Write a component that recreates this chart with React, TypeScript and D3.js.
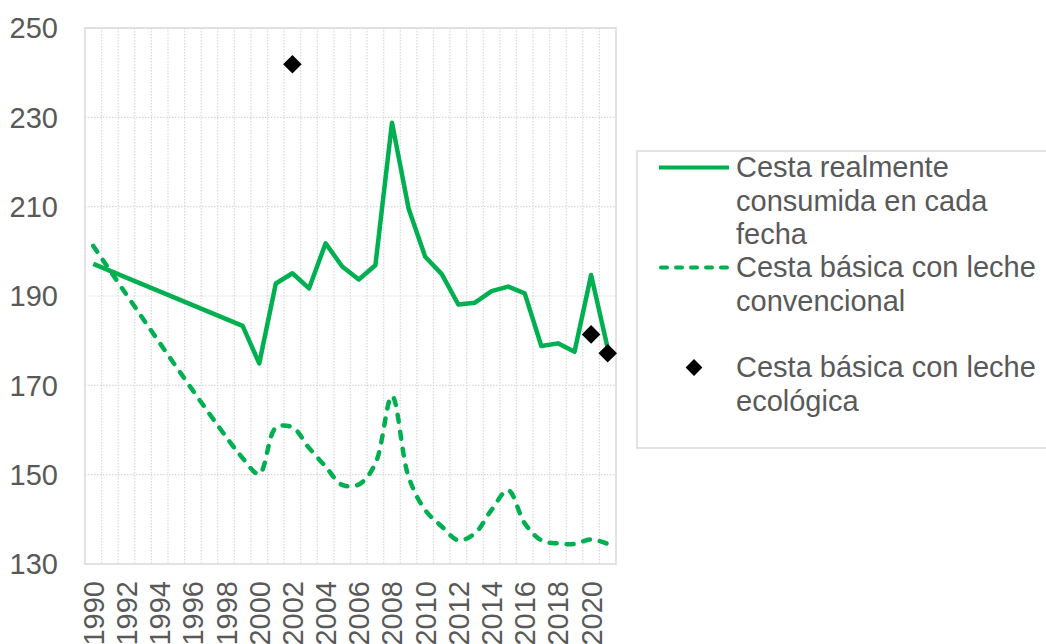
import React, { useEffect, useRef } from 'react';
import * as d3 from 'd3';

// Categories (years) and series values
const years = [
  1990, 1991, 1992, 1993, 1994, 1995, 1996, 1997, 1998, 1999,
  2000, 2001, 2002, 2003, 2004, 2005, 2006, 2007, 2008, 2009,
  2010, 2011, 2012, 2013, 2014, 2015, 2016, 2017, 2018, 2019,
  2020, 2021,
];

const realConsumed: (number | null)[] = [
  197.2, null, null, null, null, null, null, null, null, 183.3,
  174.9, 192.8, 195.1, 191.7, 201.8, 196.6, 193.7, 196.9, 228.8, 209.6,
  198.8, 194.9, 188.1, 188.5, 191.1, 192.1, 190.6, 178.8, 179.4, 177.5,
  194.7, 178.3,
];

const basicConventional: (number | null)[] = [
  201.2, null, null, null, null, null, null, null, null, 153.7,
  150.2, 160.5, 160.6, 156.0, 151.8, 147.7, 147.8, 152.5, 167.6, 149.5,
  142.1, 138.4, 135.3, 136.9, 142.1, 146.5, 139.1, 135.3, 134.6, 134.5,
  135.5, 134.5,
];

const basicEcological: (number | null)[] = [
  null, null, null, null, null, null, null, null, null, null,
  null, null, 241.9, null, null, null, null, null, null, null,
  null, null, null, null, null, null, null, null, null, null,
  181.4, 177.2,
];

const yTicks = [130, 150, 170, 190, 210, 230, 250];

const legendItems = [
  { kind: 'solid', lines: ['Cesta realmente', 'consumida en cada', 'fecha'] },
  { kind: 'dashed', lines: ['Cesta básica con leche', 'convencional'] },
  { kind: 'diamond', lines: ['Cesta básica con leche', 'ecológica'] },
];

const GREEN = '#00B050';
const TEXT = '#595959';
const GRID = '#D9D9D9';
const FONT = '"Liberation Sans", Arial, sans-serif';
const FONT_SIZE = '29px';
const DASH = '7,10';

const App: React.FC = () => {
  const svgRef = useRef<SVGSVGElement>(null);
  const width = 1046;
  const height = 644;

  useEffect(() => {
    if (!svgRef.current) return;
    d3.select(svgRef.current).selectAll('*').remove();

    const plot = { left: 85, right: 616, top: 28, bottom: 564 };

    const svg = d3.select(svgRef.current)
      .attr('width', width)
      .attr('height', height)
      .style('font-family', FONT);

    const x = d3.scaleBand<number>()
      .domain(years)
      .range([plot.left, plot.right])
      .padding(0);

    const y = d3.scaleLinear()
      .domain([130, 250])
      .range([plot.bottom, plot.top]);

    const cx = (yr: number) => (x(yr) as number) + x.bandwidth() / 2;

    // Horizontal gridlines (dotted)
    svg.append('g')
      .selectAll('line')
      .data(yTicks.slice(1))
      .enter()
      .append('line')
      .attr('x1', plot.left)
      .attr('x2', plot.right)
      .attr('y1', (d: number) => y(d))
      .attr('y2', (d: number) => y(d))
      .attr('stroke', GRID)
      .attr('stroke-width', 1.2)
      .attr('stroke-dasharray', '1.5,1.5');

    // Vertical gridlines at category boundaries (dotted)
    svg.append('g')
      .selectAll('line')
      .data(years.slice(1))
      .enter()
      .append('line')
      .attr('x1', (d: number) => x(d) as number)
      .attr('x2', (d: number) => x(d) as number)
      .attr('y1', plot.top)
      .attr('y2', plot.bottom)
      .attr('stroke', GRID)
      .attr('stroke-width', 1.2)
      .attr('stroke-dasharray', '1.5,1.5');

    // Plot area border
    svg.append('rect')
      .attr('x', plot.left)
      .attr('y', plot.top)
      .attr('width', plot.right - plot.left)
      .attr('height', plot.bottom - plot.top)
      .attr('fill', 'none')
      .attr('stroke', GRID)
      .attr('stroke-width', 1.5);

    // Y axis labels
    svg.append('g')
      .selectAll('text')
      .data(yTicks)
      .enter()
      .append('text')
      .attr('x', 58)
      .attr('y', (d: number) => y(d))
      .attr('dy', '0.36em')
      .attr('text-anchor', 'end')
      .style('font-size', FONT_SIZE)
      .style('fill', TEXT)
      .text((d: number) => d);

    // X axis labels, every second year, rotated
    svg.append('g')
      .selectAll('text')
      .data(years.filter((_, i) => i % 2 === 0))
      .enter()
      .append('text')
      .attr('transform', (d: number) => `translate(${cx(d)},581) rotate(-90)`)
      .attr('dy', '0.36em')
      .attr('text-anchor', 'end')
      .style('font-size', FONT_SIZE)
      .style('fill', TEXT)
      .text((d: number) => d);

    type Pt = { year: number; value: number };
    const toPoints = (vals: (number | null)[]): Pt[] =>
      years
        .map((yr, i) => ({ year: yr, value: vals[i] as number }))
        .filter((_, i) => vals[i] !== null);

    // Dashed smoothed line
    const smooth = d3.line<Pt>()
      .x((p: Pt) => cx(p.year))
      .y((p: Pt) => y(p.value))
      .curve(d3.curveCatmullRom.alpha(0.5));

    svg.append('path')
      .datum(toPoints(basicConventional))
      .attr('fill', 'none')
      .attr('stroke', GREEN)
      .attr('stroke-width', 4.5)
      .attr('stroke-linecap', 'round')
      .attr('stroke-dasharray', DASH)
      .attr('d', smooth);

    // Solid line
    const straight = d3.line<Pt>()
      .x((p: Pt) => cx(p.year))
      .y((p: Pt) => y(p.value));

    svg.append('path')
      .datum(toPoints(realConsumed))
      .attr('fill', 'none')
      .attr('stroke', GREEN)
      .attr('stroke-width', 4.5)
      .attr('stroke-linejoin', 'round')
      .attr('d', straight);

    // Diamonds
    const diamond = d3.symbol().type(d3.symbolDiamond2).size(220);
    svg.append('g')
      .selectAll('path')
      .data(toPoints(basicEcological))
      .enter()
      .append('path')
      .attr('transform', (p: Pt) => `translate(${cx(p.year)},${y(p.value)})`)
      .attr('d', diamond)
      .attr('fill', '#000');

    // Legend
    const legend = svg.append('g');
    legend.append('rect')
      .attr('x', 637)
      .attr('y', 151)
      .attr('width', 420)
      .attr('height', 297)
      .attr('fill', '#fff')
      .attr('stroke', GRID)
      .attr('stroke-width', 1.5);

    const lineH = 33.5;
    const entryTop = [177, 277, 377];
    legendItems.forEach((item, i) => {
      const base = entryTop[i];
      const my = base - 9.5;
      if (item.kind === 'diamond') {
        legend.append('path')
          .attr('transform', `translate(694,${my})`)
          .attr('d', d3.symbol().type(d3.symbolDiamond2).size(180))
          .attr('fill', '#000');
      } else {
        legend.append('line')
          .attr('x1', item.kind === 'dashed' ? 661 : 659)
          .attr('x2', 729)
          .attr('y1', my)
          .attr('y2', my)
          .attr('stroke', GREEN)
          .attr('stroke-width', 4)
          .attr('stroke-linecap', item.kind === 'dashed' ? 'round' : 'butt')
          .attr('stroke-dasharray', item.kind === 'dashed' ? '6,9' : null);
      }
      item.lines.forEach((t, j) => {
        legend.append('text')
          .attr('x', 736)
          .attr('y', base + j * lineH)
          .style('font-size', FONT_SIZE)
          .style('fill', TEXT)
          .text(t);
      });
    });

    return () => {
      d3.select(svgRef.current).selectAll('*').remove();
    };
  }, []);

  return (
    <div style={{ position: 'absolute', left: 0, top: 0, width, height, background: '#fff' }}>
      <svg ref={svgRef} />
    </div>
  );
};

export default App;
